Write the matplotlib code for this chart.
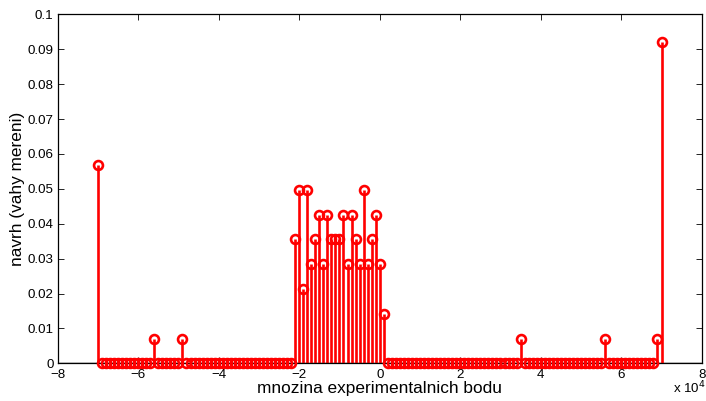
import numpy as np
import matplotlib
matplotlib.use("Agg")
import matplotlib.pyplot as plt

# experimental points (grid of candidate points)
x_start, x_stop, x_step = -70000, 70000, 1000

# nonzero design weights (x position, weight)
side_x = [-70000, -56000, -49000, 35000, 56000, 69000, 70000]
side_w = [0.0567, 0.0071, 0.0071, 0.0071, 0.0071, 0.0071, 0.0922]

mid_x = [-21000, -20000, -19000, -18000, -17000, -16000, -15000, -14000,
         -13000, -12000, -11000, -10000, -9000, -8000, -7000, -6000,
         -5000, -4000, -3000, -2000, -1000, 0, 1000]
mid_w = [0.0355, 0.0496, 0.0213, 0.0496, 0.0284, 0.0355, 0.0426, 0.0284,
         0.0426, 0.0355, 0.0355, 0.0355, 0.0426, 0.0284, 0.0426, 0.0355,
         0.0284, 0.0496, 0.0284, 0.0355, 0.0426, 0.0284, 0.0142]

xticks = [-8, -6, -4, -2, 0, 2, 4, 6, 8]
yticks = [0, 0.01, 0.02, 0.03, 0.04, 0.05, 0.06, 0.07, 0.08, 0.09, 0.1]
ytick_labels = ["0", "0.01", "0.02", "0.03", "0.04", "0.05", "0.06",
                "0.07", "0.08", "0.09", "0.1"]

xs = np.arange(x_start, x_stop + 1, x_step)
w = np.zeros(len(xs))
for xv, wv in zip(side_x + mid_x, side_w + mid_w):
    w[np.argmin(np.abs(xs - xv))] = wv

plt.rcParams['font.family'] = ['Liberation Sans', 'DejaVu Sans']

fig = plt.figure(figsize=(7.06, 4.01), dpi=100)
ax = fig.add_axes([0.0817, 0.094, 0.9123, 0.870])

red = (1, 0, 0)
xs_s = xs / 1e4
ax.vlines(xs_s, 0, w, colors=[red], linewidth=1.9, zorder=2)
ax.plot(xs_s, w, linestyle='none', marker='o', markersize=6.4,
        markerfacecolor='none', markeredgecolor=red, markeredgewidth=1.9,
        clip_on=False, zorder=3)
ax.axhline(0, color='black', linewidth=1.0, zorder=1)

ax.set_xlim(-8, 8)
ax.set_ylim(0, 0.1)
ax.set_xticks(xticks)
ax.set_xticklabels(["\u2212" + str(abs(t)) if t < 0 else str(t) for t in xticks])
ax.set_yticks(yticks)
ax.set_yticklabels(ytick_labels)
ax.tick_params(direction='in', top=True, right=True, length=4, width=0.6,
               labelsize=9.6)
ax.tick_params(axis='x', pad=4)
ax.tick_params(axis='y', pad=3)
for s in ax.spines.values():
    s.set_linewidth(0.9)

ax.set_xlabel("mnozina experimentalnich bodu", fontsize=12.4, labelpad=0)
ax.set_ylabel("navrh (vahy mereni)", fontsize=12.4, labelpad=2)
fig.text(0.953, 0.012, r"x 10$^4$", fontsize=9.6, ha='left', va='bottom')

fig.savefig("out.png", dpi=100)
